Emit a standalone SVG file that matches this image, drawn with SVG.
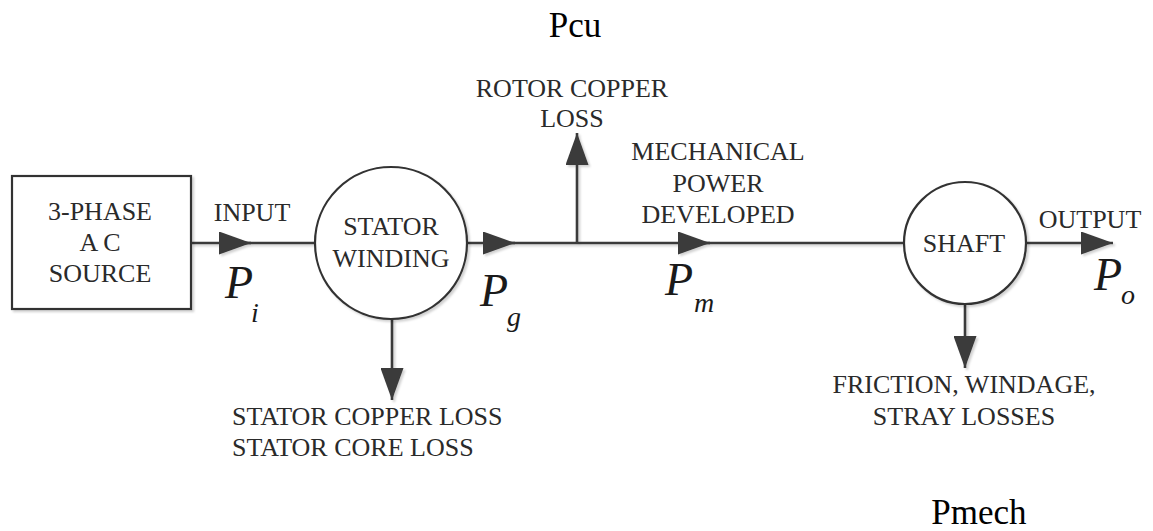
<svg xmlns="http://www.w3.org/2000/svg" width="1153" height="531" viewBox="0 0 1153 531">
  <defs>
    <filter id="sh" x="-10%" y="-10%" width="130%" height="130%">
      <feDropShadow dx="2" dy="2" stdDeviation="1.2" flood-color="#000" flood-opacity="0.18"/>
    </filter>
    <marker id="ah" viewBox="0 0 32 23" refX="32" refY="11.5" markerWidth="32" markerHeight="23" markerUnits="userSpaceOnUse" orient="auto">
      <path d="M0,0 L32,11.5 L0,23 Z" fill="#3a3a3a"/>
    </marker>
  </defs>
  <style>
    .ln { stroke: #3a3a3a; stroke-width: 2.6; fill: none; }
    .shape { stroke: #333; stroke-width: 2.2; fill: #fff; }
    text { font-family: 'Liberation Serif', 'Times New Roman', Times, serif; }
    .t { font-size: 26px; fill: #2a2a2a; text-anchor: middle; }
    .tl { font-size: 26px; fill: #2a2a2a; }
    .big { font-size: 35px; fill: #000; text-anchor: middle; }
    .mp { font-style: italic; font-size: 46px; fill: #1a1a1a; }
    .ms { font-style: italic; font-size: 28px; fill: #1a1a1a; }
  </style>
  <rect width="1153" height="531" fill="#fff"/>

  <g id="connectors" filter="url(#sh)">
    <line class="ln" x1="191" y1="243" x2="251" y2="243" marker-end="url(#ah)"/>
    <line class="ln" x1="245" y1="243" x2="315" y2="243"/>
    <line class="ln" x1="467" y1="243" x2="515" y2="243" marker-end="url(#ah)"/>
    <line class="ln" x1="510" y1="243" x2="710" y2="243" marker-end="url(#ah)"/>
    <line class="ln" x1="705" y1="243" x2="904" y2="243"/>
    <line class="ln" x1="577" y1="243" x2="577" y2="133" marker-end="url(#ah)"/>
    <line class="ln" x1="1025" y1="243" x2="1113" y2="243" marker-end="url(#ah)"/>
    <line class="ln" x1="392" y1="319" x2="392" y2="400" marker-end="url(#ah)"/>
    <line class="ln" x1="965" y1="304" x2="965" y2="368" marker-end="url(#ah)"/>
  </g>

  <g id="source">
    <rect class="shape" x="12" y="176" width="179" height="133" filter="url(#sh)"/>
    <text class="t" x="100" y="220">3-PHASE</text>
    <text class="t" x="100" y="251">A C</text>
    <text class="t" x="100" y="282">SOURCE</text>
  </g>

  <g id="stator">
    <circle class="shape" cx="391" cy="243" r="76" filter="url(#sh)"/>
    <text class="t" x="391" y="235">STATOR</text>
    <text class="t" x="391" y="267">WINDING</text>
  </g>

  <g id="shaft">
    <circle class="shape" cx="965" cy="243" r="61" filter="url(#sh)"/>
    <text class="t" x="964" y="252">SHAFT</text>
  </g>

  <g id="labels">
    <text class="big" x="575" y="37">Pcu</text>
    <text class="t" x="572" y="97">ROTOR COPPER</text>
    <text class="t" x="572" y="127">LOSS</text>
    <text class="t" x="718" y="160">MECHANICAL</text>
    <text class="t" x="718" y="192">POWER</text>
    <text class="t" x="718" y="223">DEVELOPED</text>
    <text class="t" x="252" y="221">INPUT</text>
    <text class="t" x="1090" y="228">OUTPUT</text>
    <text class="tl" x="232" y="425">STATOR COPPER LOSS</text>
    <text class="tl" x="232" y="456">STATOR CORE LOSS</text>
    <text class="t" x="964" y="393">FRICTION, WINDAGE,</text>
    <text class="t" x="964" y="425">STRAY LOSSES</text>
    <text class="big" x="979" y="524">Pmech</text>
  </g>

  <g id="power-symbols">
    <text class="mp" x="225" y="298">P</text>
    <text class="ms" x="251" y="322">i</text>
    <text class="mp" x="480" y="306">P</text>
    <text class="ms" x="507" y="326">g</text>
    <text class="mp" x="665" y="295">P</text>
    <text class="ms" x="694" y="312">m</text>
    <text class="mp" x="1094" y="290">P</text>
    <text class="ms" x="1121" y="304">o</text>
  </g>
</svg>
